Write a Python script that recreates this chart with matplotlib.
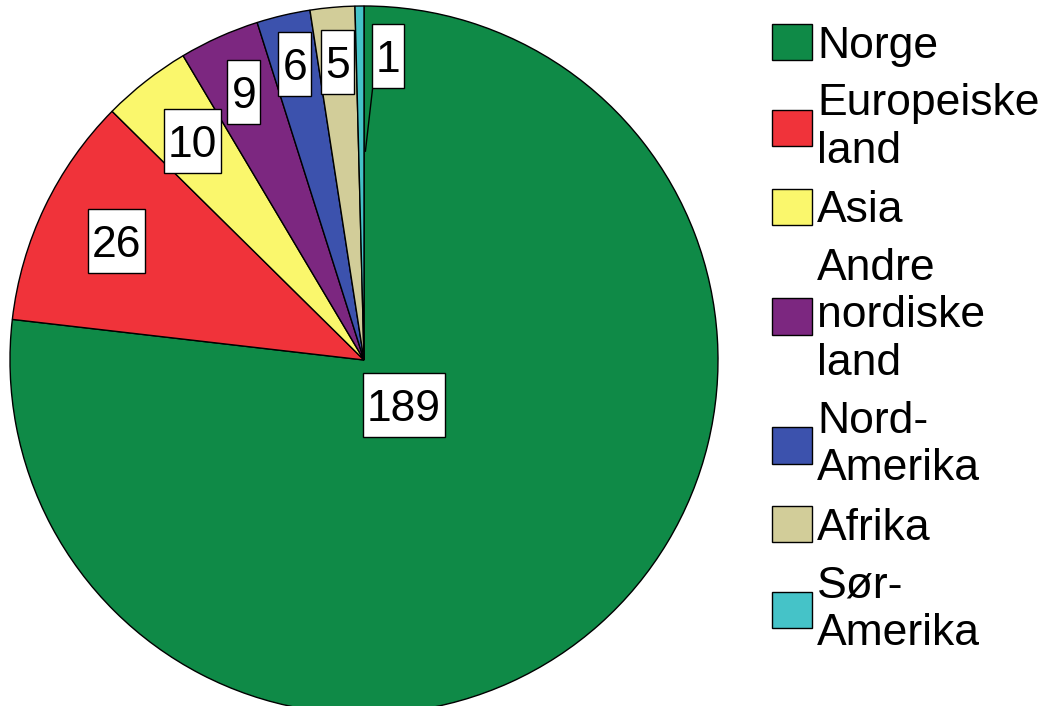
import matplotlib.pyplot as plt
import numpy as np
from matplotlib.patches import Rectangle
from matplotlib.transforms import IdentityTransform

plt.rcParams['font.family'] = ['Liberation Sans', 'DejaVu Sans']

# data
categories = ['Norge', 'Europeiske\nland', 'Asia', 'Andre\nnordiske\nland',
              'Nord-\nAmerika', 'Afrika', 'Sør-\nAmerika']
counts = [189, 26, 10, 9, 6, 5, 1]
colors = ['#0f8a47', '#f0333a', '#faf76c', '#7c2780', '#3c52ad', '#d2cd99', '#45c3c8']

W, H = 1042, 706
fig = plt.figure(figsize=(W / 100, H / 100), dpi=100)

# pie axes: centre (364, 360) px, radius 354 px
cx, cy, r = 364, 360, 354
ax = fig.add_axes([(cx - r) / W, (H - cy - r) / H, 2 * r / W, 2 * r / H])
wedges, _ = ax.pie(counts, colors=colors, startangle=90, counterclock=False,
                   wedgeprops=dict(edgecolor='black', linewidth=1.0))
ax.set_xlim(-1, 1)
ax.set_ylim(-1, 1)
ax.set_aspect('equal')
ax.axis('off')

# label radii (fraction of pie radius) for each slice
label_r = [0.17, 0.775, 0.785, 0.83, 0.86, 0.845, 0.855]
labels = []
for w, n, lr in zip(wedges, counts, label_r):
    th = np.deg2rad((w.theta1 + w.theta2) / 2)
    x, y = lr * np.cos(th), lr * np.sin(th)
    if n == 1:
        # tiny slice: label moved right with a leader line
        x, y = 0.068, 0.86
        ax.plot([0.024, 0.004], [0.765, 0.59], color='black', lw=1.0, zorder=2)
    t = ax.text(x, y, str(n), ha='center', va='center_baseline', fontsize=32, zorder=3)
    labels.append((t, x, y))

# white boxes of fixed height behind the labels
fig.canvas.draw()
rend = fig.canvas.get_renderer()
for t, x, y in labels:
    bb = t.get_window_extent(rend)
    px, py = ax.transData.transform((x, y))
    bw, bh = bb.width + 8, 64
    ax.add_patch(Rectangle((px - bw / 2, py - bh / 2), bw, bh, transform=IdentityTransform(),
                           facecolor='white', edgecolor='black', lw=1.0, zorder=2.5))

leg = fig.legend(wedges, categories, loc='upper left',
                 bbox_to_anchor=(772 / W, 1 - 24 / H), frameon=False, fontsize=32,
                 handlelength=0.9, handleheight=0.88, handletextpad=0.11,
                 labelspacing=0.38, borderpad=0, borderaxespad=0)
for t in leg.get_texts():
    t.set_linespacing(1.2)

fig.savefig('out.png', dpi=100)
